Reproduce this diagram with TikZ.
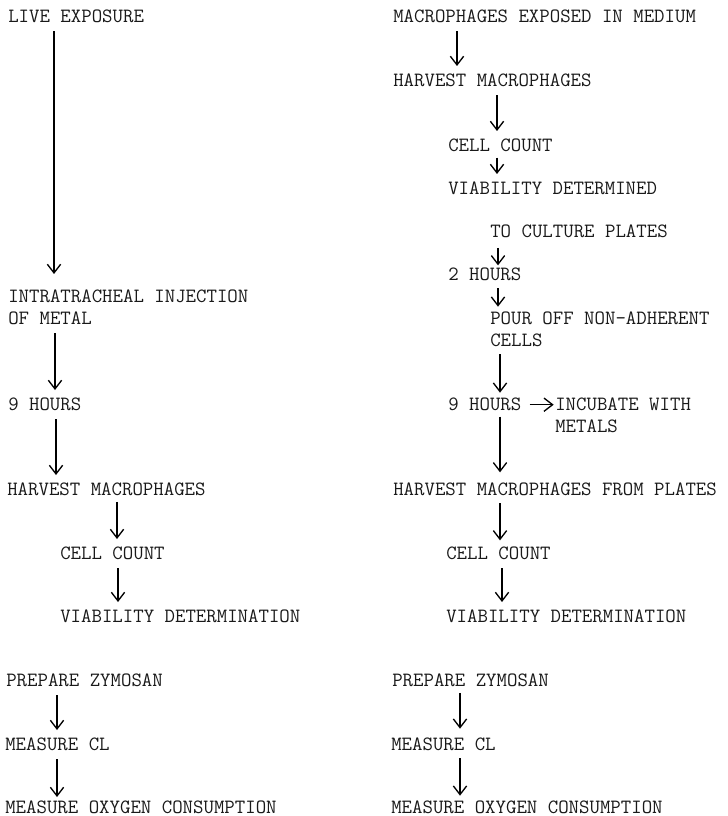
\documentclass[tikz,border=0pt]{standalone}
\usepackage{fontspec}
\usepackage{tikz}
\usetikzlibrary{arrows.meta}

\begin{document}
\begin{tikzpicture}[
        x=0.75pt,
        y=-0.75pt,
        steptext/.style={
            anchor=north west,
            inner sep=0pt,
            align=left,
            text=black!90,
            font=\ttfamily\addfontfeature{FakeBold=0.8}\fontsize{15.2}{16.5}\selectfont
        },
        flow/.style={
            line width=1pt,
            -{Straight Barb[length=6.5pt,width=10pt]},
            shorten <=6pt,
            shorten >=6pt
        }
    ]

        % page frame
        \useasboundingbox (0,0) rectangle (727,816);

        % live exposure
        \node[steptext] (live)    at (8,10)   {LIVE EXPOSURE};
        \node[steptext] (inject)  at (8,290)  {INTRATRACHEAL INJECTION\\OF METAL};
        \node[steptext] (hoursA)  at (8,398)  {9 HOURS};
        \node[steptext] (harvA)   at (7,483)  {HARVEST MACROPHAGES};
        \node[steptext] (countA)  at (60,547) {CELL COUNT};
        \node[steptext] (viabA)   at (60,610) {VIABILITY DETERMINATION};
        \node[steptext] (zymoA)   at (6,674)  {PREPARE ZYMOSAN};
        \node[steptext] (clA)     at (5,738)  {MEASURE CL};
        \node[steptext] (oxyA)    at (5,801)  {MEASURE OXYGEN CONSUMPTION};

        \draw[flow, shorten >=12pt] (live.south -| 54,0) -- (inject.north -| 54,0);
        \draw[flow] (inject.south -| 55,0) -- (hoursA.north -| 55,0);
        \draw[flow] (hoursA.south -| 56,0) -- (harvA.north -| 56,0);
        \draw[flow, shorten <=4pt] (harvA.south -| 117,0) -- (countA.north -| 117,0);
        \draw[flow] (countA.south -| 118,0) -- (viabA.north -| 118,0);
        \draw[flow] (zymoA.south -| 57,0) -- (clA.north -| 57,0);
        \draw[flow, shorten >=3pt] (clA.south -| 57,0) -- (oxyA.north -| 57,0);

        % exposure in medium
        \node[steptext] (medium)  at (393,10)  {MACROPHAGES EXPOSED IN MEDIUM};
        \node[steptext] (harvB)   at (393,74)  {HARVEST MACROPHAGES};
        \node[steptext] (countB)  at (448,139) {CELL COUNT};
        \node[steptext] (viabB)   at (448,182) {VIABILITY DETERMINED};
        \node[steptext] (plates)  at (490,225) {TO CULTURE PLATES};
        \node[steptext] (twohrs)  at (448,268) {2 HOURS};
        \node[steptext] (pour)    at (490,312) {POUR OFF NON-ADHERENT\\CELLS};
        \node[steptext] (hoursB)  at (448,398) {9 HOURS};
        \node[steptext] (incub)   at (555,398) {INCUBATE WITH\\METALS};
        \node[steptext] (harvC)   at (393,483) {HARVEST MACROPHAGES FROM PLATES};
        \node[steptext] (countC)  at (446,547) {CELL COUNT};
        \node[steptext] (viabC)   at (446,610) {VIABILITY DETERMINATION};
        \node[steptext] (zymoB)   at (392,674) {PREPARE ZYMOSAN};
        \node[steptext] (clB)     at (391,738) {MEASURE CL};
        \node[steptext] (oxyB)    at (391,801) {MEASURE OXYGEN CONSUMPTION};

        \draw[flow] (medium.south -| 457,0) -- (harvB.north -| 457,0);
        \draw[flow] (harvB.south -| 497,0) -- (countB.north -| 497,0);
        \draw[flow, shorten <=4pt] (countB.south -| 497,0) -- (viabB.north -| 497,0);
        \draw[flow, shorten <=7pt, shorten >=2pt] (plates.south -| 498,0) -- (twohrs.north -| 498,0);
        \draw[flow, shorten <=5pt, shorten >=4pt] (twohrs.south -| 498,0) -- (pour.north -| 498,0);
        \draw[flow, shorten <=5pt, shorten >=4pt] (pour.south -| 500,0) -- (hoursB.north -| 500,0);
        \draw[flow, shorten <=4pt, shorten >=8pt] (hoursB.south -| 500,0) -- (harvC.north -| 500,0);
        \draw[flow, shorten <=5pt, shorten >=5pt] (harvC.south -| 500,0) -- (countC.north -| 500,0);
        \draw[flow] (countC.south -| 502,0) -- (viabC.north -| 502,0);
        \draw[flow, shorten <=4pt, shorten >=7pt] (zymoB.south -| 460,0) -- (clB.north -| 460,0);
        \draw[flow, shorten <=5pt, shorten >=4pt] (clB.south -| 460,0) -- (oxyB.north -| 460,0);

        \draw[flow, shorten >=1pt] (hoursB.east) -- (hoursB.east -| incub.west);

    \end{tikzpicture}
\end{document}
